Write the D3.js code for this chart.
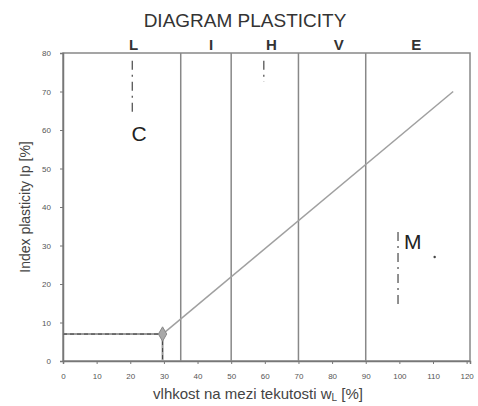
<!DOCTYPE html>
<html>
<head>
<meta charset="utf-8">
<script src="https://cdn.jsdelivr.net/npm/d3@7"></script>
<style>
  body { margin: 0; background: #fff; }
  text { font-family: "Liberation Sans", Arial, sans-serif; }
</style>
</head>
<body>
<svg id="chart" width="478" height="406"></svg>
<script>
(() => {
    // data
    const xTicks = [0, 10, 20, 30, 40, 50, 60, 70, 80, 90, 100, 110, 120];
    const yTicks = [0, 10, 20, 30, 40, 50, 60, 70, 80];
    const boundaries = [35, 50, 70, 90];           // wL zone limits
    const zoneNames = ["L", "I", "H", "V", "E"];
    const zoneCentres = [21, 44, 62, 82, 105];
    const aLine = [{wl: 29.6, ip: 7}, {wl: 116, ip: 70}];
    const baseLine = [{wl: 0, ip: 7}, {wl: 29.6, ip: 7}];
    const dropLine = [{wl: 29.6, ip: 7}, {wl: 29.6, ip: 0}];
    const regionNames = ["C", "M"];
    const regionWl = [22.6, 104];
    const regionIp = [59, 31];
    // faint broken marks left on the scan
    const marks = [
        {wl: 20.6, from: 78, to: 63.5},
        {wl: 59.7, from: 78, to: 72.5},
        {wl: 99.6, from: 33.5, to: 14.5},
    ];
    const dots = [{wl: 110.5, ip: 27}];

    const svg = d3.select("svg#chart");

    const x = d3.scaleLinear().domain([0, 121]).range([63, 470]);
    const y = d3.scaleLinear().domain([0, 80]).range([361, 53]);
    const line = d3.line().x(d => x(d.wl)).y(d => y(d.ip));

    // title
    svg.append("text")
        .attr("x", 245).attr("y", 27)
        .attr("text-anchor", "middle")
        .attr("font-size", 19)
        .attr("fill", "#333")
        .text("DIAGRAM PLASTICITY");

    // frame
    svg.append("rect")
        .attr("x", x(0)).attr("y", y(80))
        .attr("width", x(121) - x(0)).attr("height", y(0) - y(80))
        .attr("fill", "none")
        .attr("stroke", "#888")
        .attr("stroke-width", 1.5);

    // axes
    const xAxis = svg.append("g")
        .attr("transform", `translate(0, ${y(0)})`)
        .call(d3.axisBottom(x).tickValues(xTicks).tickSize(3).tickPadding(9));
    const yAxis = svg.append("g")
        .attr("transform", `translate(${x(0)}, 0)`)
        .call(d3.axisLeft(y).tickValues(yTicks).tickSize(3).tickPadding(9));
    [xAxis, yAxis].forEach(a => {
        a.select(".domain").attr("stroke", "#777").attr("stroke-width", 1.5);
        a.selectAll(".tick line").attr("stroke", "#777");
        a.selectAll(".tick text")
            .attr("fill", "#555")
            .attr("font-size", 8)
            .style("font-family", "'Liberation Sans', Arial, sans-serif");
    });

    // zone boundaries
    svg.append("g")
        .selectAll("line")
        .data(boundaries)
        .enter().append("line")
        .attr("x1", d => x(d)).attr("x2", d => x(d))
        .attr("y1", y(80)).attr("y2", y(0))
        .attr("stroke", "#888")
        .attr("stroke-width", 1.5);

    // zone letters
    svg.append("g")
        .selectAll("text")
        .data(zoneNames)
        .enter().append("text")
        .attr("x", (d, i) => x(zoneCentres[i]))
        .attr("y", 50)
        .attr("text-anchor", "middle")
        .attr("font-size", 15)
        .attr("font-weight", "bold")
        .attr("fill", "#333")
        .text(d => d);

    // A-line
    svg.append("path")
        .attr("d", line(aLine))
        .attr("fill", "none")
        .attr("stroke", "#a0a0a0")
        .attr("stroke-width", 1.5);

    // horizontal part and drop to the axis
    [baseLine, dropLine].forEach(seg => {
        svg.append("path")
            .attr("d", line(seg))
            .attr("fill", "none")
            .attr("stroke", "#9a9a9a")
            .attr("stroke-width", 2);
        svg.append("path")
            .attr("d", line(seg))
            .attr("fill", "none")
            .attr("stroke", "#444")
            .attr("stroke-width", 1)
            .attr("stroke-dasharray", "4,3");
    });

    // break point
    svg.append("path")
        .attr("d", d3.symbol().type(d3.symbolDiamond).size(60)())
        .attr("transform", `translate(${x(aLine[0].wl)}, ${y(aLine[0].ip)})`)
        .attr("fill", "#a8a8a8")
        .attr("stroke", "#888");

    // scan marks
    svg.append("g")
        .selectAll("line")
        .data(marks)
        .enter().append("line")
        .attr("x1", d => x(d.wl)).attr("x2", d => x(d.wl))
        .attr("y1", d => y(d.from)).attr("y2", d => y(d.to))
        .attr("stroke", "#555")
        .attr("stroke-width", 1.3)
        .attr("stroke-dasharray", "9,5,2,5");
    svg.append("g")
        .selectAll("circle")
        .data(dots)
        .enter().append("circle")
        .attr("cx", d => x(d.wl)).attr("cy", d => y(d.ip))
        .attr("r", 1.2)
        .attr("fill", "#444");

    // region letters
    svg.append("g")
        .selectAll("text")
        .data(regionNames)
        .enter().append("text")
        .attr("x", (d, i) => x(regionWl[i]))
        .attr("y", (d, i) => y(regionIp[i]))
        .attr("dy", "0.36em")
        .attr("text-anchor", "middle")
        .attr("font-size", 21)
        .attr("fill", "#222")
        .text(d => d);

    // axis titles
    svg.append("text")
        .attr("transform", `translate(30, ${(y(0) + y(80)) / 2}) rotate(-90)`)
        .attr("text-anchor", "middle")
        .attr("font-size", 14)
        .attr("fill", "#444")
        .text("Index plasticity Ip [%]");

    const xt = svg.append("text")
        .attr("x", 258).attr("y", 399)
        .attr("text-anchor", "middle")
        .attr("font-size", 15)
        .attr("fill", "#444");
    xt.append("tspan").text("vlhkost na mezi tekutosti w");
    xt.append("tspan").attr("font-size", 10).attr("dy", 2).text("L");
    xt.append("tspan").attr("dy", -2).text(" [%]");
})();
</script>
</body>
</html>
